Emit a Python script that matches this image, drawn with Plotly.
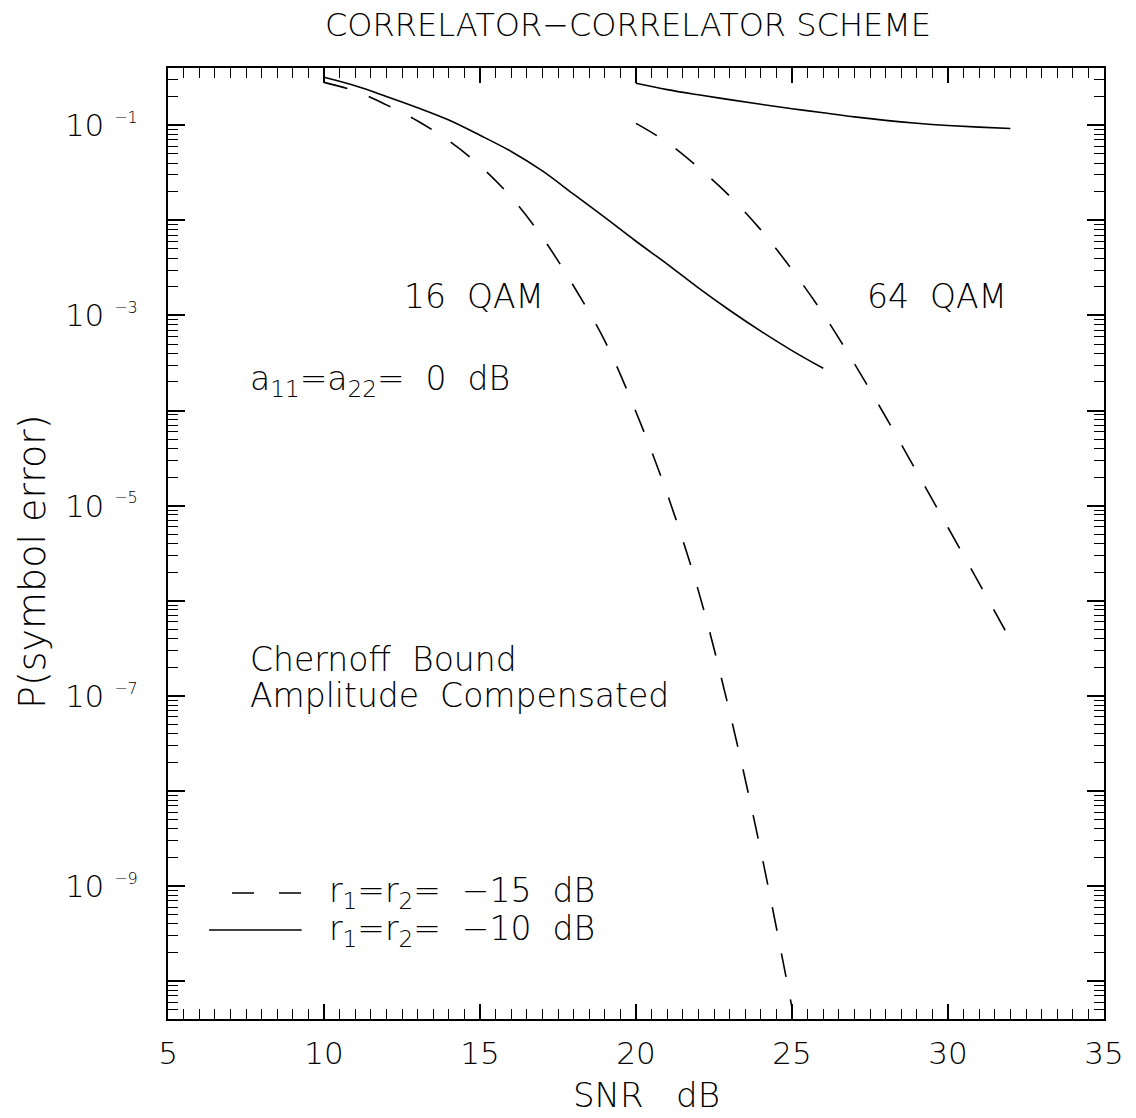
import plotly.graph_objects as go

# Symbol error probability vs SNR (Chernoff bound, amplitude compensated)
snr_16 = [10, 11, 12, 13, 14, 15, 16, 17, 18, 19, 20, 21, 22, 23, 24, 25]
pe_16_r15 = [0.2825, 0.229, 0.1637, 0.1109, 0.0686, 0.0375, 0.0175, 0.00661,
             0.00204, 5.40e-4, 9.66e-5, 1.33e-5, 1.27e-6, 6.78e-8, 2.34e-9, 5.25e-11]

snr_16_r10 = [10, 11, 12, 13, 14, 15, 16, 17, 18, 19, 20, 21, 22, 23, 24, 25, 26]
pe_16_r10 = [0.319, 0.260, 0.201, 0.153, 0.1135, 0.0785, 0.0530, 0.0331, 0.01884,
             0.01072, 0.00603, 0.00347, 0.00195, 0.001135, 6.84e-4, 4.27e-4, 2.78e-4]

snr_64 = [20, 21, 22, 23, 24, 25, 26, 27, 28, 29, 30, 31, 32]
pe_64_r15 = [0.1047, 0.0661, 0.0360, 0.01803, 0.00794, 0.00303, 0.00104, 3.11e-4,
             8.61e-5, 2.26e-5, 5.89e-6, 1.52e-6, 3.89e-7]
pe_64_r10 = [0.276, 0.237, 0.209, 0.186, 0.166, 0.149, 0.1355, 0.1225, 0.1125,
             0.1050, 0.0995, 0.0955, 0.0923]

x_ticks = [5, 10, 15, 20, 25, 30, 35]
y_exponents = list(range(-1, -11, -1))
legend_labels = ["r<sub>1</sub>=r<sub>2</sub>=\u00a0\u00a0\u221215\u00a0\u00a0dB",
                 "r<sub>1</sub>=r<sub>2</sub>=\u00a0\u00a0\u221210\u00a0\u00a0dB"]

FONT = "DejaVu Sans"
WEIGHT = 200
INK = "black"
DASH = "24px,23px"

fig = go.Figure()

def curve(x, y, dash):
    fig.add_trace(go.Scatter(
        x=x, y=y, mode="lines", showlegend=False, hoverinfo="skip",
        line=dict(color=INK, width=1.6, dash=dash, shape="spline", smoothing=1.0)))

curve(snr_16, pe_16_r15, DASH)
curve(snr_16_r10, pe_16_r10, "solid")
curve(snr_64, pe_64_r15, DASH)
curve(snr_64, pe_64_r10, "solid")

# y tick labels: every decade ticked, odd exponents labelled
y_tickvals = [10.0 ** e for e in y_exponents]
y_ticktext = [
    ("10\u00a0<sup><span style='font-size:16px'>\u2212%d</span></sup>" % (-e)) if e % 2 else ""
    for e in y_exponents
]
y_minor = [k * 10.0 ** e for e in range(-11, 0) for k in range(2, 10)
           if 4e-11 <= k * 10.0 ** e <= 0.4]
x_minor = [5 + 0.5 * i for i in range(61) if (5 + 0.5 * i) % 5 != 0]

axis_common = dict(
    showline=True, linewidth=2, linecolor=INK, mirror="ticks",
    ticks="inside", tickcolor=INK, tickwidth=1.5,
    showgrid=False, zeroline=False,
    tickfont=dict(family=FONT, size=31, color=INK, weight=WEIGHT),
)

fig.update_layout(
    width=1136, height=1118,
    margin=dict(l=168, r=28, t=68, b=99),
    paper_bgcolor="white", plot_bgcolor="white",
    font=dict(family=FONT, color=INK, weight=WEIGHT),
    title=dict(text="CORRELATOR\u2212CORRELATOR SCHEME", x=628 / 1136, xanchor="center",
               y=1 - 25 / 1118, yanchor="middle",
               font=dict(family=FONT, size=32, color=INK, weight=WEIGHT)),
    xaxis=dict(
        range=[5, 35], tickmode="array", tickvals=x_ticks,
        ticktext=[str(v) for v in x_ticks], ticklen=15, ticklabelstandoff=6,
        minor=dict(tickmode="array", tickvals=x_minor, ticks="inside",
                   ticklen=10, tickwidth=1.3, tickcolor=INK),
        **axis_common),
    yaxis=dict(
        type="log", range=[-10.398, -0.398], tickmode="array",
        tickvals=y_tickvals, ticktext=y_ticktext, ticklen=17, ticklabelstandoff=22,
        minor=dict(tickmode="array", tickvals=y_minor, ticks="inside",
                   ticklen=10, tickwidth=1.3, tickcolor=INK),
        **axis_common),
)

def px_x(px):
    return (px - 167.7) / 940.3

def px_y(py):
    return (1019 - py) / 951

def note(text, x, y, size=33, xanchor="left", xref="x", yref="y", angle=0):
    fig.add_annotation(text=text, x=x, y=y, xref=xref, yref=yref, xanchor=xanchor,
                       yanchor="middle", showarrow=False, textangle=angle,
                       font=dict(family=FONT, size=size, color=INK, weight=WEIGHT))

# curve labels and notes (y in log10 units on the log axis)
note("16\u00a0\u00a0QAM", 14.80, -2.803, xanchor="center")
note("64\u00a0\u00a0QAM", 29.65, -2.803, xanchor="center")
note("a<sub>11</sub>=a<sub>22</sub>=\u00a0\u00a00\u00a0\u00a0dB", 7.56, -3.68)
note("Chernoff\u00a0\u00a0Bound", 7.56, -6.62)
note("Amplitude\u00a0\u00a0Compensated", 7.56, -7.0)

# axis titles
note("SNR\u00a0\u00a0\u00a0dB", px_x(648), px_y(1095), size=34, xanchor="center",
     xref="paper", yref="paper")
note("P(symbol error)", px_x(31), px_y(561), size=38, xanchor="center",
     xref="paper", yref="paper", angle=-90)

# legend keys
fig.add_shape(type="line", xref="paper", yref="paper", x0=px_x(232), x1=px_x(302),
              y0=px_y(893), y1=px_y(893), line=dict(color=INK, width=1.6, dash="22px,25px"))
fig.add_shape(type="line", xref="paper", yref="paper", x0=px_x(209), x1=px_x(302),
              y0=px_y(930), y1=px_y(930), line=dict(color=INK, width=1.6))
note(legend_labels[0], px_x(327), px_y(893), xref="paper", yref="paper")
note(legend_labels[1], px_x(327), px_y(930), xref="paper", yref="paper")

fig.write_html("out.html")
